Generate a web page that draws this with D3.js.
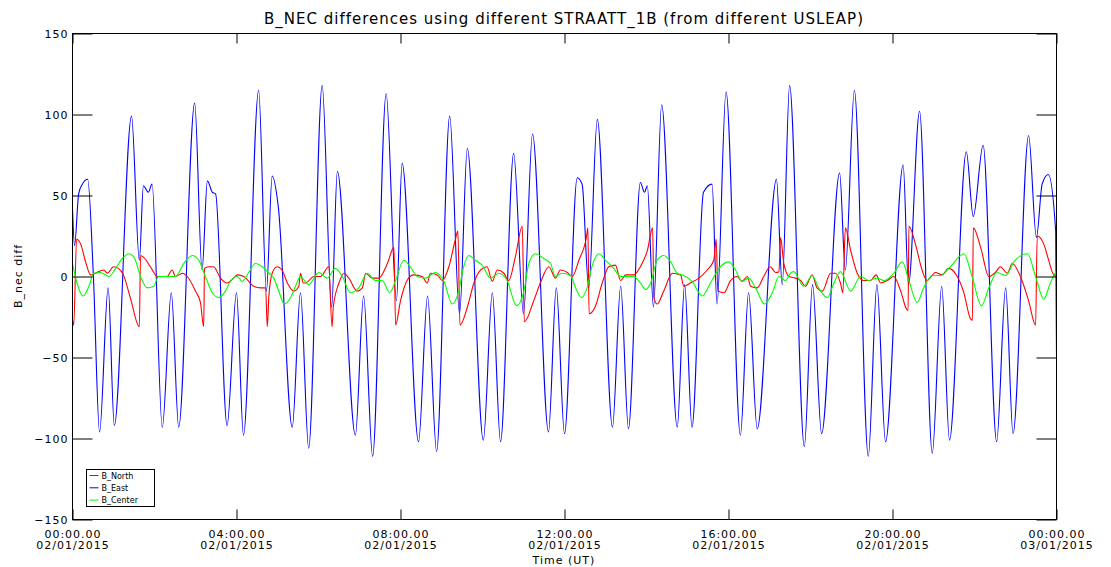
<!DOCTYPE html>
<html>
<head>
<meta charset="utf-8">
<script src="https://cdn.jsdelivr.net/npm/d3@7"></script>
<style>
  body { margin: 0; background: #fff; }
  text { font-family: "DejaVu Sans", sans-serif; fill: #000; }
</style>
</head>
<body>
<div id="chart"></div>
<script>
// each point: [hours since 00:00 02/01/2015, difference]
var bNorth = [
  [0, -27], [0.03, -30], [0.10, 23], [0.20, 20], [0.32, 9], [0.44, 1], [0.56, 2], [0.76, 4], [0.85, 2],
  [1.00, 6], [1.12, 5], [1.24, 1], [1.41, -13], [1.63, -31], [1.66, 13], [1.73, 12], [1.90, 6], [2.07, 0],
  [2.31, 0], [2.43, 4], [2.51, 0], [2.68, 2], [2.80, 0], [3.00, -9], [3.12, -16], [3.20, -31], [3.22, 5],
  [3.32, 6], [3.44, 6], [3.61, -1], [3.77, -4], [3.93, -1], [4.02, 1], [4.18, 0], [4.42, -6], [4.59, -7],
  [4.71, -7], [4.75, -31], [4.79, -12], [4.87, 2], [4.99, 6], [5.11, 4], [5.24, -4], [5.40, -9], [5.52, -6],
  [5.56, 2], [5.63, -4], [5.68, -4], [5.89, 0], [6.05, 0], [6.25, 6], [6.33, -31], [6.36, -19], [6.50, -4],
  [6.62, 2], [6.74, -1], [6.94, -9], [7.07, -7], [7.15, 2], [7.31, -1], [7.47, -1], [7.68, 8], [7.84, 18],
  [7.88, -30], [8.00, -15], [8.16, -2.5], [8.32, 1], [8.53, 0], [8.65, -4], [8.73, 2], [8.90, 1], [9.02, -2.5],
  [9.18, 6], [9.34, 23], [9.40, 28], [9.45, -30], [9.63, -19], [9.79, -4], [9.95, 4], [10.11, 6], [10.24, -3],
  [10.36, 4], [10.52, 2], [10.64, -2.5], [10.80, 12], [10.97, 31], [11.02, -28], [11.25, -15], [11.41, -4],
  [11.62, 6], [11.78, -1], [11.90, 4], [12.07, 2.5], [12.19, 0], [12.35, 10], [12.54, 25], [12.57, 30],
  [12.60, -23], [12.76, -18], [12.92, -4], [13.08, 6], [13.24, 7], [13.37, -2.5], [13.49, 1], [13.69, 1],
  [13.85, 6], [14.02, 16], [14.15, 30], [14.18, -13], [14.26, -17], [14.42, -9], [14.63, 2], [14.83, 1],
  [14.91, -6], [15.07, -4], [15.28, -1], [15.48, 4], [15.64, 10], [15.70, 23], [15.74, -9], [15.89, -10],
  [16.05, -2.5], [16.21, 0], [16.33, -3], [16.46, 0], [16.54, -6], [16.70, -7], [16.86, 0], [17.02, 6],
  [17.15, 2.5], [17.23, 3], [17.27, 24], [17.35, 8], [17.48, 0], [17.63, -1], [17.76, -2.5], [17.88, -6],
  [18.04, 1], [18.16, -7], [18.29, -9], [18.49, 2], [18.61, 2], [18.73, -4], [18.79, -10], [18.85, 30],
  [18.98, 16], [19.14, 2], [19.30, -2.5], [19.46, -2.5], [19.60, 1], [19.71, -4], [19.87, -2.5], [20.03, 0],
  [20.20, -9], [20.34, -20], [20.38, -21], [20.40, 31], [20.56, 20], [20.72, 4], [20.84, -2.5], [21.05, 2.5],
  [21.21, 1], [21.37, 5], [21.58, 0], [21.74, -10], [21.90, -26], [21.95, -27], [21.97, 30], [22.15, 18],
  [22.35, 0], [22.51, 2.5], [22.63, 6], [22.80, 2], [22.92, 8], [23.12, 0], [23.32, -15], [23.49, -30],
  [23.53, 25], [23.69, 20], [23.81, 10], [23.93, 1], [24.0, 0]
];

var bEast = [
  [0, 42], [0.05, 19], [0.15, 51], [0.24, 57], [0.37, 60], [0.51, 0], [0.66, -96], [0.87, -7], [1.02, -92],
  [1.44, 99], [1.63, 10], [1.73, 56], [1.85, 52], [1.94, 57], [2.19, -93], [2.41, -10], [2.59, -93],
  [2.98, 107], [3.16, 4], [3.29, 59], [3.41, 52], [3.49, 51], [3.77, -92], [4.00, -10], [4.17, -98],
  [4.54, 115], [4.73, -9], [4.87, 62], [5.02, 43], [5.36, -93], [5.56, -10], [5.76, -106],
  [6.09, 118], [6.32, -19], [6.46, 65], [6.90, -98], [7.10, -12], [7.32, -111],
  [7.65, 113], [7.90, -15], [8.04, 70], [8.44, -102], [8.66, -12], [8.88, -108],
  [9.20, 99], [9.44, -23], [9.63, 79], [10.02, -101], [10.24, -10], [10.44, -102],
  [10.76, 76], [11.00, -23], [11.22, 88], [11.61, -96], [11.80, -7], [12.00, -97],
  [12.31, 61], [12.43, 57], [12.59, -7], [12.80, 97], [13.17, -93], [13.37, -6], [13.56, -94],
  [13.85, 58], [13.95, 52], [14.02, 56], [14.17, -19], [14.37, 106], [14.75, -93], [14.93, -5], [15.11, -93],
  [15.39, 52], [15.60, 57], [15.72, -17], [15.94, 114], [16.29, -98], [16.49, -10], [16.70, -94],
  [17.17, 60], [17.31, -5], [17.49, 118], [17.85, -105], [18.05, -5], [18.27, -97],
  [18.71, 64], [18.85, 4], [19.07, 115], [19.41, -111], [19.62, -5], [19.83, -102],
  [20.26, 69], [20.39, -5], [20.66, 102], [20.97, -109], [21.20, -6], [21.39, -101],
  [21.80, 77], [21.97, 37], [22.21, 81], [22.54, -102], [22.76, -7], [22.94, -97],
  [23.32, 87], [23.51, 24], [23.65, 57], [23.80, 63], [23.98, 28], [24.0, -49]
];

var bCenter = [
  [0, 8], [0.11, -4], [0.26, -12], [0.40, -6], [0.52, 2], [0.68, 2.5], [0.89, 0], [1.05, 5], [1.21, 11],
  [1.37, 14], [1.50, 12], [1.66, 0], [1.82, -7], [1.98, -6], [2.10, 0], [2.31, 0], [2.51, 0], [2.71, 8],
  [2.92, 13], [3.08, 10], [3.24, 0], [3.41, -10], [3.57, -13], [3.73, -9], [3.85, -3], [4.02, 0], [4.14, -3],
  [4.30, 2.5], [4.46, 8], [4.63, 6], [4.79, 2], [4.91, -1], [5.03, -9], [5.17, -17], [5.32, -13], [5.44, -6],
  [5.56, 0], [5.76, -5], [6.01, 2.5], [6.21, -1], [6.41, 5], [6.58, 0], [6.78, -10], [6.98, -7], [7.19, 2],
  [7.39, -2.5], [7.55, -2.5], [7.74, -10], [7.88, -2.5], [8.08, 10], [8.24, 6], [8.41, 0], [8.61, -1],
  [8.85, 2.5], [9.06, -3], [9.26, -17], [9.42, -9], [9.54, 6], [9.67, 13], [9.83, 10], [9.99, 7], [10.20, -1],
  [10.40, 2], [10.60, -2.5], [10.83, -18], [11.01, -9], [11.13, 8], [11.29, 14], [11.50, 11], [11.66, 8],
  [11.78, 0], [11.94, 2], [12.15, 0.6], [12.27, -7], [12.41, -13], [12.55, -7], [12.68, 7], [12.84, 14],
  [13.00, 10], [13.20, 5], [13.37, 0], [13.53, 0], [13.69, 0], [13.85, -4], [13.98, -8], [14.10, -4],
  [14.26, 10], [14.42, 13], [14.59, 9], [14.75, 2], [14.91, 0.6], [15.11, -3], [15.36, -12], [15.56, -4],
  [15.80, 6], [16.01, 9], [16.17, 4], [16.33, -3], [16.49, -1], [16.66, -7], [16.88, -17], [17.07, -10],
  [17.23, 0], [17.39, -2.5], [17.51, 2], [17.59, 3], [17.84, -6], [18.04, 0.6], [18.20, -7], [18.41, -13],
  [18.57, -4], [18.73, 3], [18.98, -9], [19.22, 0], [19.42, -2.5], [19.62, -1], [19.79, -2.5], [20.03, 2],
  [20.24, 9], [20.40, -2.5], [20.60, -16], [20.76, -7], [20.97, 0.6], [21.17, 0.6], [21.41, 6], [21.74, 14],
  [21.94, 0], [22.17, -18], [22.35, -7], [22.55, 2.5], [22.76, 0.6], [22.96, 9], [23.29, 14], [23.49, 0],
  [23.69, -14], [23.85, -4], [23.98, 2.5], [24.0, 3]
];

var xTicks = [0, 4, 8, 12, 16, 20, 24];
var timeLabels = ["00:00.00", "04:00.00", "08:00.00", "12:00.00", "16:00.00", "20:00.00", "00:00.00"];
var dateLabels = ["02/01/2015", "02/01/2015", "02/01/2015", "02/01/2015", "02/01/2015", "02/01/2015", "03/01/2015"];
var yTicks = [-150, -100, -50, 0, 50, 100, 150];

var seriesNames = ["B_North", "B_East", "B_Center"];
var seriesColors = ["#ff0000", "#0000ff", "#00ff00"];


// svg container
var svgWidth = 1111;
var svgHeight = 567;

var margin = { top: 33, right: 55, bottom: 48, left: 72 };

var width = svgWidth - margin.left - margin.right;
var height = svgHeight - margin.top - margin.bottom;

var svg = d3.select("#chart")
  .append("svg")
  .attr("width", svgWidth)
  .attr("height", svgHeight);

var chart = svg.append("g")
  .attr("transform", `translate(${margin.left + 0.5}, ${margin.top + 0.5})`);

var xScale = d3.scaleLinear().domain([0, 24]).range([0, width]);
var yScale = d3.scaleLinear().domain([-150, 150]).range([height, 0]);

// clip so nothing leaks past the frame
chart.append("clipPath").attr("id", "plotClip")
  .append("rect").attr("x", 0).attr("y", 0).attr("width", width).attr("height", height);

var line = d3.line()
  .x(d => xScale(d[0]))
  .y(d => yScale(d[1]))
  .curve(d3.curveMonotoneX);

var plot = chart.append("g").attr("clip-path", "url(#plotClip)");

// draw order: East under North under Center
var drawOrder = [
  { data: bEast, color: seriesColors[1] },
  { data: bNorth, color: seriesColors[0] },
  { data: bCenter, color: seriesColors[2] }
];

drawOrder.forEach(function(s) {
  plot.append("path")
    .datum(s.data)
    .attr("d", line)
    .attr("fill", "none")
    .attr("stroke", s.color)
    .attr("stroke-width", 1.1);
});

// axes, ticks point inward like IDL
var bottomAxis = d3.axisBottom(xScale).tickValues(xTicks).tickSizeInner(-10).tickSizeOuter(0).tickPadding(4);
var topAxis = d3.axisTop(xScale).tickValues(xTicks).tickSizeInner(-10).tickSizeOuter(0).tickFormat("");
var leftAxis = d3.axisLeft(yScale).tickValues(yTicks).tickSizeInner(-20).tickSizeOuter(0).tickPadding(4);
var rightAxis = d3.axisRight(yScale).tickValues(yTicks).tickSizeInner(-20).tickSizeOuter(0).tickFormat("");

var gx = chart.append("g").attr("transform", `translate(0, ${height})`).call(bottomAxis);
chart.append("g").call(topAxis);
var gy = chart.append("g").call(leftAxis);
chart.append("g").attr("transform", `translate(${width}, 0)`).call(rightAxis);

svg.selectAll(".domain").remove();
svg.selectAll(".tick line").attr("stroke", "#000");

gy.selectAll("text")
  .attr("font-family", "DejaVu Sans")
  .attr("font-size", 11)
  .attr("letter-spacing", 1)
  .attr("fill", "#000");

// two-line time labels
gx.selectAll(".tick text").each(function(d, i) {
  var t = d3.select(this);
  t.text(null)
    .attr("font-family", "DejaVu Sans")
    .attr("font-size", 11)
    .attr("letter-spacing", 1)
    .attr("fill", "#000")
    .attr("y", 0)
    .attr("dy", null);
  t.append("tspan").attr("x", 0).attr("y", 18).text(timeLabels[i]);
  t.append("tspan").attr("x", 0).attr("y", 29).text(dateLabels[i]);
});

// frame
chart.append("rect")
  .attr("width", width)
  .attr("height", height)
  .attr("fill", "none")
  .attr("stroke", "#000");

// title & labels
svg.append("text")
  .attr("x", margin.left + width / 2)
  .attr("y", 24)
  .attr("text-anchor", "middle")
  .attr("font-size", 15)
  .attr("letter-spacing", 1)
  .text("B_NEC differences using different STRAATT_1B (from different USLEAP)");

svg.append("text")
  .attr("transform", `translate(22, ${margin.top + height / 2}) rotate(-90)`)
  .attr("text-anchor", "middle")
  .attr("font-size", 11)
  .attr("letter-spacing", 1)
  .text("B_nec diff");

svg.append("text")
  .attr("x", margin.left + width / 2)
  .attr("y", 564)
  .attr("text-anchor", "middle")
  .attr("font-size", 11)
  .attr("letter-spacing", 1)
  .text("Time (UT)");

// legend
var legend = svg.append("g").attr("transform", "translate(86.5, 469.5)");
legend.append("rect")
  .attr("width", 68)
  .attr("height", 37)
  .attr("fill", "#fff")
  .attr("stroke", "#000");

var rows = legend.selectAll("g.row")
  .data(seriesNames)
  .enter()
  .append("g")
  .attr("class", "row")
  .attr("transform", (d, i) => `translate(0, ${6 + i * 12.3})`);

rows.append("line")
  .attr("x1", 3).attr("x2", 12)
  .attr("y1", 0).attr("y2", 0)
  .attr("stroke", d => seriesColors[seriesNames.indexOf(d)]);

rows.append("text")
  .attr("x", 15)
  .attr("y", 3)
  .attr("font-size", 8)
  .text(d => d);
</script>
</body>
</html>
